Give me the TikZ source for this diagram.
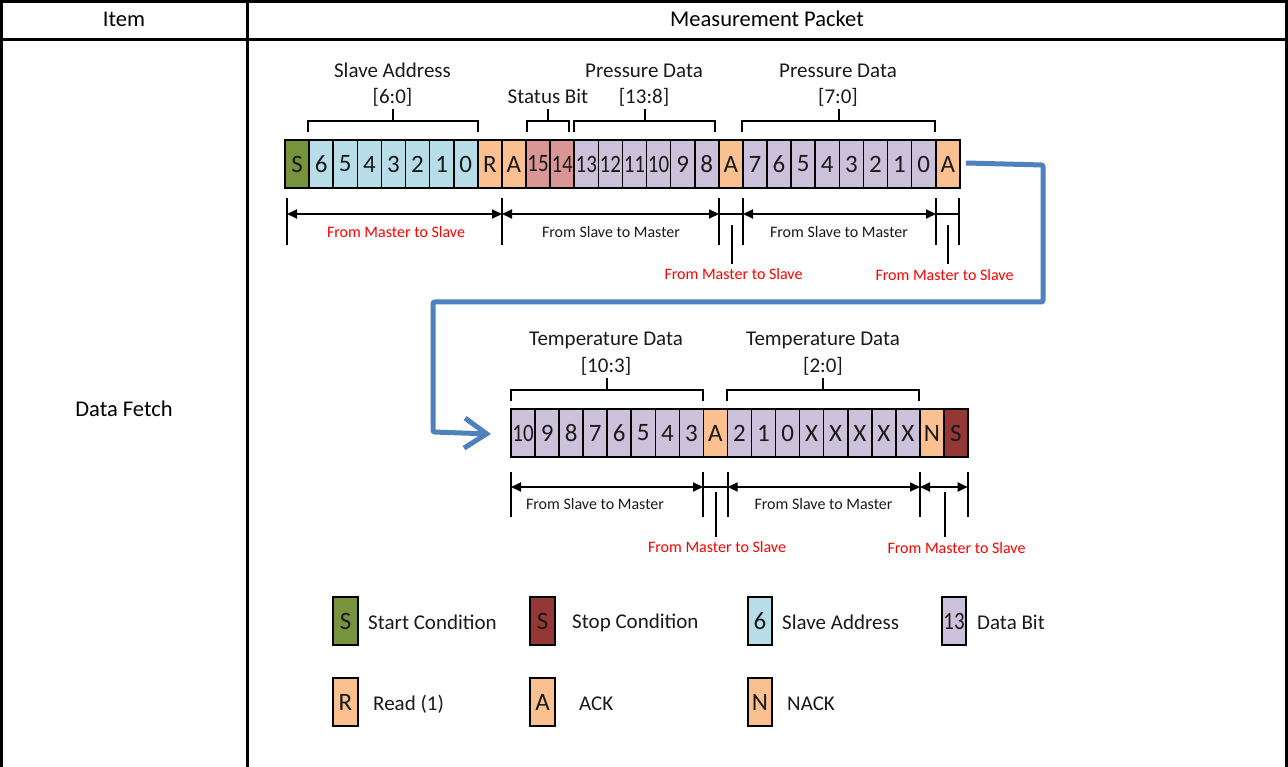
\documentclass[tikz,border=0pt]{standalone}
\usepackage{fontspec}
\usepackage{graphicx}
\setmainfont{Carlito}
\usetikzlibrary{arrows.meta}
\definecolor{cStart}{HTML}{77933C}
\definecolor{cStop}{HTML}{953735}
\definecolor{cAddr}{HTML}{B7DEE8}
\definecolor{cAck}{HTML}{FAC090}
\definecolor{cStat}{HTML}{D99694}
\definecolor{cData}{HTML}{CCC1DA}
\definecolor{cBlue}{HTML}{4F81BD}
\definecolor{cRed}{HTML}{FF0000}
\definecolor{cTxt}{HTML}{1A1A1A}
\newcommand\tw[1]{\scalebox{0.84}[1]{#1}}
\newcommand\bkt[3]{%
  \draw[brk] (#1,#3+11) -- (#1,#3) -- (#2,#3) -- (#2,#3+11);
  \draw[brk] ({(#1+#2)/2},#3) -- ({(#1+#2)/2},#3-12);}
\begin{document}
\begin{tikzpicture}[x=1pt,y=-1pt,
  cell/.style={draw=black, line width=1.6pt, minimum width=24.1pt, minimum height=48pt,
    inner sep=0pt, outer sep=0pt, anchor=west, font=\fontsize{25}{30}\selectfont, text=cTxt},
  lgbox/.style={draw=black, line width=1.6pt, minimum width=24.5pt, minimum height=48pt,
    inner sep=0pt, outer sep=0pt, font=\fontsize{25}{30}\selectfont, text=cTxt},
  tbl/.style={line width=3.3pt, draw=black},
  brk/.style={line width=2pt, draw=black},
  tick/.style={line width=2pt, draw=black},
  dimarrow/.style={line width=2pt, {Triangle[length=10pt,width=9pt]}-{Triangle[length=10pt,width=9pt]}},
  lbl/.style={inner sep=0pt, anchor=base, font=\fontsize{21}{25}\selectfont, text=cTxt},
  hdr/.style={inner sep=0pt, anchor=base, font=\fontsize{22.5}{27}\selectfont, text=black},
  small/.style={inner sep=0pt, anchor=base, font=\fontsize{16}{19}\selectfont, text=cTxt},
  smallred/.style={small, text=cRed},
  lgtxt/.style={inner sep=0pt, anchor=base west, font=\fontsize{21}{25}\selectfont, text=cTxt},
  flow/.style={line width=5pt, draw=cBlue, rounded corners=2pt, -{Straight Barb[length=22pt,width=30pt]}}
]
\useasboundingbox (0,0) rectangle (1288,767);
\fill[white] (0,0) rectangle (1288,767);

% table
\draw[tbl] (1.6,767) -- (1.6,1.6) -- (1286.4,1.6) -- (1286.4,767);
\draw[tbl] (0,39.2) -- (1288,39.2);
\draw[tbl] (247.3,0) -- (247.3,767);
\node[hdr] (hItem) at (124,26.5) {Item};
\node[hdr] (hPkt) at (767,26.5) {Measurement Packet};
\node[hdr] (rowlbl) at (124,416) {Data Fetch};

% row 1 cells
\foreach \t/\c [count=\i from 0] in {S/cStart, 6/cAddr, 5/cAddr, 4/cAddr, 3/cAddr, 2/cAddr, 1/cAddr, 0/cAddr,
  R/cAck, A/cAck, {\tw{15}}/cStat, {\tw{14}}/cStat, {\tw{13}}/cData, {\tw{12}}/cData, {\tw{11}}/cData,
  {\tw{10}}/cData, 9/cData, 8/cData, A/cAck, 7/cData, 6/cData, 5/cData, 4/cData, 3/cData, 2/cData,
  1/cData, 0/cData, A/cAck}
  \node[cell, fill=\c] (r1c\i) at ({285+\i*24.1},164) {\t};

% row 2 cells
\foreach \t/\c [count=\i from 0] in {{\tw{10}}/cData, 9/cData, 8/cData, 7/cData, 6/cData, 5/cData, 4/cData, 3/cData,
  A/cAck, 2/cData, 1/cData, 0/cData, X/cData, X/cData, X/cData, X/cData, X/cData, N/cAck, S/cStop}
  \node[cell, fill=\c] (r2c\i) at ({511+\i*24.05},433) {\t};

% brackets and labels row 1
\bkt{308}{478}{121}
\bkt{527}{569}{121}
\bkt{574}{715}{121}
\bkt{742}{935}{121}
\node[lbl] (lSA) at (392.5,78) {Slave Address};
\node[lbl] (lSA2) at (392.5,104) {[6:0]};
\node[lbl] (lSB) at (548,103.5) {Status Bit};
\node[lbl] (lPD1) at (644,78) {Pressure Data};
\node[lbl] (lPD1b) at (644,104) {[13:8]};
\node[lbl] (lPD2) at (838,78) {Pressure Data};
\node[lbl] (lPD2b) at (838,104) {[7:0]};

% brackets and labels row 2
\bkt{511}{703}{389.5}
\bkt{727}{919}{389.5}
\node[lbl] (lTD1) at (606,345.5) {Temperature Data};
\node[lbl] (lTD1b) at (606,372) {[10:3]};
\node[lbl] (lTD2) at (823,345.5) {Temperature Data};
\node[lbl] (lTD2b) at (823,372) {[2:0]};

% dimension lines row 1
\foreach \x in {287,502,719,743,936,958.5} \draw[tick] (\x,198) -- (\x,245);
\foreach \x in {731.5,947.5} \draw[tick] (\x,225) -- (\x,264);
\coordinate (a1) at (287,214);
\coordinate (a2) at (502,214);
\coordinate (a3) at (719,214);
\coordinate (a4) at (743,214);
\coordinate (a5) at (936,214);
\coordinate (a6) at (958.5,214);
\draw[dimarrow] (a1) -- (a2);
\draw[dimarrow] (a2) -- (a3);
\draw[tick] (a3) -- (a4);
\draw[dimarrow] (a4) -- (a5);
\draw[tick] (a5) -- (a6);
\node[smallred] (d1) at (396,238) {From Master to Slave};
\node[small] (d2) at (611,238) {From Slave to Master};
\node[small] (d3) at (839,238) {From Slave to Master};
\node[smallred] (d4) at (733.5,280) {From Master to Slave};
\node[smallred] (d5) at (944.5,281) {From Master to Slave};

% dimension lines row 2
\foreach \x in {511,703,727.7,920,967.7} \draw[tick] (\x,472) -- (\x,517);
\foreach \x in {715.5,945} \draw[tick] (\x,492) -- (\x,537);
\coordinate (b1) at (511,487);
\coordinate (b2) at (703,487);
\coordinate (b3) at (727.7,487);
\coordinate (b4) at (920,487);
\coordinate (b5) at (967.7,487);
\draw[dimarrow] (b1) -- (b2);
\draw[tick] (b2) -- (b3);
\draw[dimarrow] (b3) -- (b4);
\draw[dimarrow] (b4) -- (b5);
\node[small] (e1) at (595,509.5) {From Slave to Master};
\node[small] (e2) at (823.5,509.5) {From Slave to Master};
\node[smallred] (e3) at (717,552.5) {From Master to Slave};
\node[smallred] (e4) at (956.5,553) {From Master to Slave};

% blue flow arrow
\coordinate (f0) at ([xshift=6pt,yshift=1pt]r1c27.east);
\coordinate (f1) at (1043,165);
\coordinate (f2) at (1043,302);
\coordinate (f3) at (433,302);
\coordinate (f4) at (433,432);
\coordinate (f5) at ([xshift=-20pt,yshift=-1pt]r2c0.west);
\draw[flow] (f0) -- (f1) -- (f2) -- (f3) -- (f4) -- (f5);

% legend
\node[lgbox, fill=cStart] (lg1) at (345.5,621) {S};
\node[lgtxt] (lt1) at (368,629) {Start Condition};
\node[lgbox, fill=cStop] (lg2) at (542.5,621) {S};
\node[lgtxt] (lt2) at (572,628) {Stop Condition};
\node[lgbox, fill=cAddr] (lg3) at (760,621) {6};
\node[lgtxt] (lt3) at (782,629) {Slave Address};
\node[lgbox, fill=cData] (lg4) at (954,621) {\tw{13}};
\node[lgtxt] (lt4) at (977,629) {Data Bit};
\node[lgbox, fill=cAck] (lg5) at (345.5,702) {R};
\node[lgtxt] (lt5) at (373,710) {Read (1)};
\node[lgbox, fill=cAck] (lg6) at (542.5,702) {A};
\node[lgtxt] (lt6) at (579,710) {ACK};
\node[lgbox, fill=cAck] (lg7) at (760,702) {N};
\node[lgtxt] (lt7) at (787,710) {NACK};
\end{tikzpicture}
\end{document}
